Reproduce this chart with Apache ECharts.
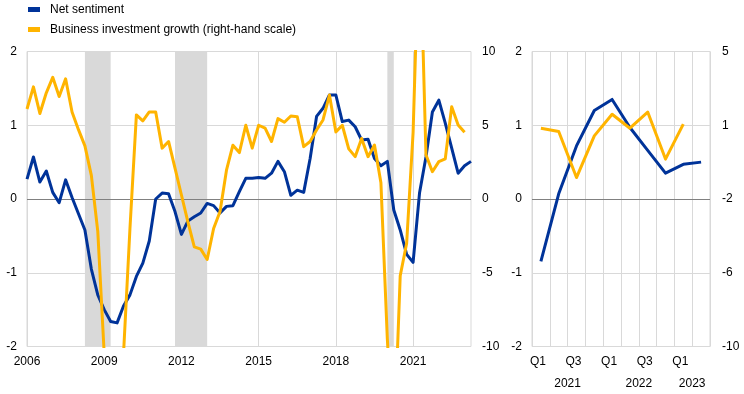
<!DOCTYPE html>
<html><head><meta charset="utf-8">
<script src="https://cdn.jsdelivr.net/npm/echarts@6/dist/echarts.min.js"></script>
<style>html,body{margin:0;padding:0;background:#fff}#c{width:744px;height:394px}</style>
</head><body><div id="c"></div>
<script>
// ---- data ----
const longQuarters = (function () {
  const a = [];
  for (let y = 2006; y <= 2023; y++) for (let q = 1; q <= 4; q++) a.push(y + 'Q' + q);
  return a.slice(0, 70); // 2006Q1 .. 2023Q2
})();
const netSentimentLong = [
  0.27, 0.57, 0.23, 0.38, 0.09, -0.05, 0.26, 0.02, -0.2, -0.42,
  -0.95, -1.3, -1.5, -1.66, -1.68, -1.45, -1.3, -1.05, -0.87, -0.57,
  0.0, 0.08, 0.07, -0.17, -0.48, -0.3, -0.24, -0.19, -0.06, -0.09,
  -0.19, -0.1, -0.09, 0.1, 0.28, 0.28, 0.29, 0.28, 0.35, 0.51,
  0.37, 0.05, 0.12, 0.09, 0.55, 1.12, 1.23, 1.41, 1.41, 1.05,
  1.07, 0.98, 0.8, 0.81, 0.55, 0.45, 0.51, -0.15, -0.42, -0.75,
  -0.86, 0.08, 0.57, 1.18, 1.34, 1.03, 0.69, 0.35, 0.45, 0.51
];
const investmentGrowthLong = [
  6.1, 7.6, 5.8, 7.2, 8.25, 6.95, 8.15, 5.9, 4.7, 3.6,
  1.6, -2.2, -10.5, -16, -17, -10.5, -2.0, 5.7, 5.3, 5.9,
  5.9, 3.45, 3.9, 2.1, 0.27, -1.55, -3.25, -3.4, -4.1, -2.0,
  -0.85, 1.95, 3.65, 3.15, 5.0, 3.45, 5.0, 4.8, 3.9, 5.45,
  5.2, 5.63, 5.58, 3.55, 3.9, 4.68, 5.36, 7.05, 4.55, 5.0,
  3.4, 2.87, 4.1, 2.87, 3.66, 1.1, -9.5, -17, -5.2, -3.0,
  4.5, 19, 3.0, 1.85, 2.53, 2.72, 6.26, 5.02, 4.52
];
const recessions = [['2008Q2', '2009Q2'], ['2011Q4', '2013Q1'], ['2020Q1', '2020Q2']];

const shortQuarters = ['2021Q1', '2021Q2', '2021Q3', '2021Q4', '2022Q1', '2022Q2', '2022Q3', '2022Q4', '2023Q1', '2023Q2'];
const netSentimentShort = [-0.845, 0.07, 0.72, 1.2, 1.35, 0.97, 0.66, 0.35, 0.47, 0.5];
const investmentGrowthShort = [1.1, 0.93, -1.41, 0.71, 1.81, 1.1, 1.92, -0.47, 1.31];

const seriesNames = ['Net sentiment', 'Business investment growth (right-hand scale)'];

// ---- derived year groups for the short panel ----
const yearGroups = [];
shortQuarters.forEach(function (q, i) {
  const y = q.slice(0, 4);
  const last = yearGroups[yearGroups.length - 1];
  if (last && last.year === y) last.end = i; else yearGroups.push({ year: y, start: i, end: i });
});
const yearBoundaries = yearGroups.map(g => g.start).concat([shortQuarters.length]);
const yearCenters = yearGroups.map(g => (g.start + g.end + 1) / 2);

const BLUE = '#003399', YELLOW = '#ffb400', GRID = '#d9d9d9', ZERO = '#808080';
const FONT = 'Liberation Sans, Arial, sans-serif';
const lbl = { color: '#000', fontSize: 12, fontFamily: FONT };

const chart = echarts.init(document.getElementById('c'), null, { renderer: 'canvas' });
const zeroLine = {
  silent: true, symbol: ['none', 'none'], z: 1.5,
  label: { show: false }, emphasis: { disabled: true },
  lineStyle: { color: ZERO, width: 1, type: 'solid' },
  data: [{ yAxis: 0 }]
};
chart.setOption({
  animation: false,
  backgroundColor: '#fff',
  textStyle: { fontFamily: FONT },
  legend: {
    orient: 'vertical', left: 28, top: 3.5, padding: 0, itemWidth: 12, itemHeight: 5, icon: 'rect', itemGap: 8,
    textStyle: Object.assign({ padding: [0, 0, 0, 5] }, lbl),
    data: seriesNames
  },
  grid: [
    { left: 27, top: 51.5, width: 444, height: 295, show: true, borderColor: GRID, borderWidth: 1, backgroundColor: 'transparent' },
    { left: 532, top: 51.5, width: 178, height: 295, show: true, borderColor: GRID, borderWidth: 1, backgroundColor: 'transparent' }
  ],
  xAxis: [
    {
      gridIndex: 0, type: 'category', data: longQuarters, boundaryGap: false,
      axisLine: { show: false }, axisTick: { show: false },
      axisLabel: Object.assign({ interval: 11, margin: 9, formatter: v => v.slice(0, 4) }, lbl),
      splitLine: { show: true, interval: 11, lineStyle: { color: GRID, width: 1 } }
    },
    {
      gridIndex: 1, type: 'category', data: shortQuarters, boundaryGap: true,
      axisLine: { show: false }, axisTick: { show: false },
      axisLabel: Object.assign({ interval: 1, margin: 9, padding: [0, 6, 0, 0], formatter: v => v.slice(4) }, lbl),
      splitLine: { show: true, interval: 0, lineStyle: { color: GRID, width: 1 } }
    },
    {
      gridIndex: 1, type: 'value', position: 'bottom', min: 0, max: shortQuarters.length,
      axisLine: { show: false },
      axisTick: { show: true, customValues: yearBoundaries, length: 46, lineStyle: { color: GRID, width: 1 } },
      axisLabel: Object.assign({
        customValues: yearCenters, margin: 31,
        formatter: v => { const k = yearCenters.indexOf(v); return k >= 0 ? yearGroups[k].year : ''; }
      }, lbl),
      splitLine: { show: false }
    }
  ],
  yAxis: [
    {
      gridIndex: 0, type: 'value', min: -2, max: 2, interval: 1,
      axisLine: { show: false }, axisTick: { show: false },
      axisLabel: Object.assign({ margin: 10 }, lbl),
      splitLine: { lineStyle: { color: GRID, width: 1 } }
    },
    {
      gridIndex: 0, type: 'value', position: 'right', min: -10, max: 10, interval: 5,
      axisLine: { show: false }, axisTick: { show: false },
      axisLabel: Object.assign({ margin: 11 }, lbl),
      splitLine: { show: false }
    },
    {
      gridIndex: 1, type: 'value', min: -2, max: 2, interval: 1,
      axisLine: { show: false }, axisTick: { show: false },
      axisLabel: Object.assign({ margin: 10 }, lbl),
      splitLine: { lineStyle: { color: GRID, width: 1 } }
    },
    {
      gridIndex: 1, type: 'value', position: 'right', min: -10, max: 5, interval: 3.75,
      axisLine: { show: false }, axisTick: { show: false },
      axisLabel: Object.assign({ margin: 12, formatter: v => String(Math.round(v)) }, lbl),
      splitLine: { show: false }
    }
  ],
  series: [
    {
      name: seriesNames[0], type: 'line', xAxisIndex: 0, yAxisIndex: 0, data: netSentimentLong,
      color: BLUE, showSymbol: false, symbol: 'none', lineStyle: { width: 3, color: BLUE, join: 'round' },
      z: 3,
      markArea: {
        silent: true, z: 1, itemStyle: { color: GRID },
        data: recessions.map(r => [{ xAxis: r[0] }, { xAxis: r[1] }])
      },
      markLine: zeroLine
    },
    {
      name: seriesNames[1], type: 'line', xAxisIndex: 0, yAxisIndex: 1, data: investmentGrowthLong,
      color: YELLOW, showSymbol: false, symbol: 'none', lineStyle: { width: 3, color: YELLOW, join: 'round' }, z: 4
    },
    {
      name: seriesNames[0], type: 'line', xAxisIndex: 1, yAxisIndex: 2, data: netSentimentShort,
      color: BLUE, showSymbol: false, symbol: 'none', lineStyle: { width: 3, color: BLUE, join: 'round' }, z: 3,
      markLine: zeroLine
    },
    {
      name: seriesNames[1], type: 'line', xAxisIndex: 1, yAxisIndex: 3, data: investmentGrowthShort,
      color: YELLOW, showSymbol: false, symbol: 'none', lineStyle: { width: 3, color: YELLOW, join: 'round' }, z: 4
    }
  ]
});
</script>
</body></html>
